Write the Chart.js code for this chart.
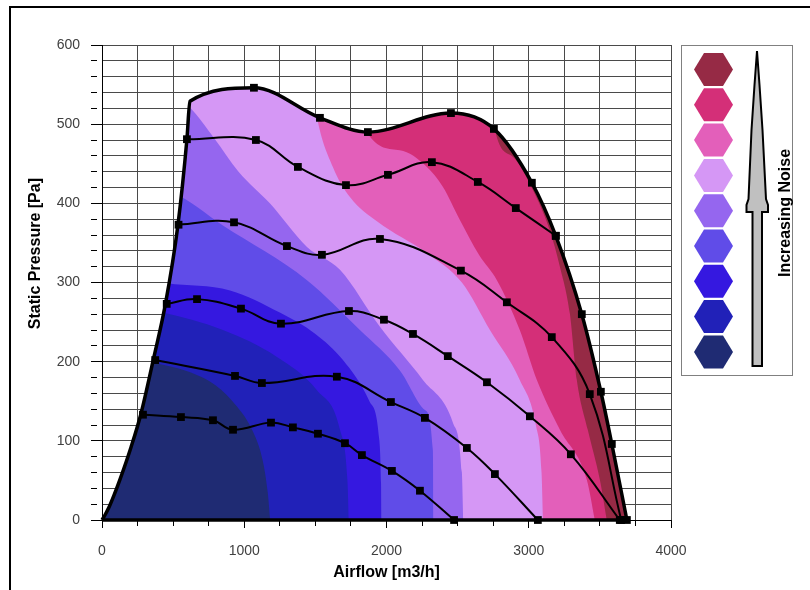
<!DOCTYPE html>
<html>
<head>
<meta charset="utf-8">
<script src="https://cdn.jsdelivr.net/npm/chart.js@4.4.0/dist/chart.umd.min.js"></script>
<style>
  html, body { margin: 0; padding: 0; background: #fff; }
  #wrap { position: relative; width: 810px; height: 590px; overflow: hidden; }
  #frame { position: absolute; left: 9px; top: 6px; width: 900px; height: 700px;
           border-left: 2px solid #000; border-top: 2px solid #000; pointer-events: none; }
  #legend { position: absolute; left: 0; top: 0; pointer-events: none; }
</style>
</head>
<body>
<div id="wrap">
  <canvas id="fan-map" width="810" height="590"></canvas>
  <div id="frame"></div>
  <svg id="legend" width="810" height="590" xmlns="http://www.w3.org/2000/svg"></svg>
</div>
<script>
// axis labels
const flowLabels = [0, 1000, 2000, 3000, 4000];
const pressureLabels = [0, 100, 200, 300, 400, 500, 600];

// legend colours, loudest first
const noiseColors = ['#962a45', '#d42f78', '#e35fba', '#d597f5', '#9566ef',
                     '#604ce8', '#3518e0', '#2121b8', '#1f2b73'];

// left edge of the map (stall line) and the top speed curve
const stallFlow     = [0, 20, 49, 86, 126, 204, 272, 360, 446, 534, 597, 618];
const stallPressure = [0, 6, 16, 32, 51, 92, 133, 202, 273, 373, 481, 529];
const maxFlow     = [1068, 1532, 1869, 2453, 2755, 3022, 3190, 3373, 3507, 3584, 3690];
const maxPressure = [546, 508, 490, 514, 494, 426, 359, 260, 162, 96, 0];
const baseFlow = [0, 3690];
const basePressure = [0, 0];

// lower speed curves
const speed1Flow     = [597, 1082, 1377, 1715, 2010, 2319, 2642, 2909, 3190];
const speed1Pressure = [481, 480, 446, 423, 436, 452, 427, 394, 359];
const speed2Flow     = [538, 928, 1300, 1546, 1954, 2523, 2846, 3162, 3429, 3650];
const speed2Pressure = [373, 376, 346, 335, 355, 315, 275, 231, 159, 0];
const speed3Flow     = [455, 668, 977, 1258, 1736, 1982, 2186, 2431, 2706, 3008, 3296, 3640];
const speed3Pressure = [273, 279, 267, 248, 264, 253, 235, 207, 174, 131, 83, 0];
const speed4Flow     = [374, 935, 1124, 1651, 2031, 2270, 2565, 2762, 3064];
const speed4Pressure = [202, 182, 173, 181, 149, 129, 91, 58, 0];
const speed5Flow     = [288, 555, 780, 921, 1188, 1342, 1518, 1708, 1827, 2038, 2235, 2475];
const speed5Pressure = [133, 130, 126, 114, 123, 117, 109, 97, 82, 62, 37, 0];

// outer edge of each quieter noise zone (zone n uses noiseColors[n])
const zone1Flow     = [0, 2720, 2762, 2888, 3029, 3148, 3219, 3289, 3338, 3415, 3500, 3549];
const zone1Pressure = [600, 600, 493, 459, 417, 366, 320, 261, 177, 114, 51, 0];
const zone2Flow     = [0, 1820, 1862, 2094, 2284, 2396, 2516, 2650, 2776, 2937, 3057, 3219, 3408, 3465];
const zone2Pressure = [600, 600, 490, 467, 446, 421, 379, 335, 303, 240, 177, 114, 51, 0];
const zone3Flow     = [0, 1440, 1511, 1623, 1743, 1935, 2284, 2530, 2727, 2937, 3050, 3090, 3100];
const zone3Pressure = [600, 600, 509, 446, 408, 377, 337, 300, 240, 177, 120, 60, 0];
const zone4Flow     = [0, 618, 790, 960, 1180, 1441, 1673, 1954, 2256, 2467, 2530, 2540];
const zone4Pressure = [600, 521, 482, 440, 400, 345, 316, 244, 177, 123, 60, 0];
const zone5Flow     = [0, 499, 850, 1441, 1813, 2094, 2270, 2326, 2330];
const zone5Pressure = [425, 413, 372, 303, 240, 189, 139, 88, 0];
const zone6Flow     = [0, 457, 900, 1250, 1500, 1694, 1880, 1950, 1962, 1965];
const zone6Pressure = [312, 299, 290, 262, 235, 202, 150, 100, 45, 0];
const zone7Flow     = [0, 425, 850, 1230, 1511, 1673, 1725, 1735];
const zone7Pressure = [275, 262, 240, 206, 164, 114, 51, 0];
const zone8Flow     = [0, 380, 600, 800, 950, 1060, 1130, 1165, 1182];
const zone8Pressure = [215, 198, 188, 170, 143, 112, 75, 35, 0];

function pts(xs, ys) {
  return xs.map((x, i) => ({ x: x, y: ys[i] }));
}

const envelope = pts(stallFlow.concat(maxFlow), stallPressure.concat(maxPressure));

function speedCurve(xs, ys) {
  return {
    data: pts(xs, ys),
    borderColor: '#000',
    borderWidth: 2,
    tension: 0.4,
    pointStyle: 'rect',
    pointRadius: 5.5,
    pointBackgroundColor: '#000',
    pointBorderWidth: 0,
    fill: false,
    clip: false
  };
}

function zone(xs, ys, color) {
  return {
    data: pts(xs, ys),
    backgroundColor: color,
    borderWidth: 0,
    pointRadius: 0,
    cubicInterpolationMode: 'monotone',
    fill: 'origin'
  };
}

const datasets = [
  speedCurve(speed1Flow, speed1Pressure),
  speedCurve(speed2Flow, speed2Pressure),
  speedCurve(speed3Flow, speed3Pressure),
  speedCurve(speed4Flow, speed4Pressure),
  speedCurve(speed5Flow, speed5Pressure),
  {
    // outline of the map
    data: envelope,
    borderColor: '#000',
    borderWidth: 3.5,
    cubicInterpolationMode: 'monotone',
    pointStyle: 'rect',
    pointRadius: ctx => ctx.dataIndex >= stallFlow.length ? 5.5 : 0,
    pointBackgroundColor: '#000',
    pointBorderWidth: 0,
    fill: false,
    clip: false
  },
  {
    data: pts(baseFlow, basePressure),
    borderColor: '#000',
    borderWidth: 3.5,
    pointRadius: 0,
    fill: false,
    clip: false
  }
];

const firstZoneIndex = datasets.length;
datasets.push(zone(zone8Flow, zone8Pressure, noiseColors[8]));
datasets.push(zone(zone7Flow, zone7Pressure, noiseColors[7]));
datasets.push(zone(zone6Flow, zone6Pressure, noiseColors[6]));
datasets.push(zone(zone5Flow, zone5Pressure, noiseColors[5]));
datasets.push(zone(zone4Flow, zone4Pressure, noiseColors[4]));
datasets.push(zone(zone3Flow, zone3Pressure, noiseColors[3]));
datasets.push(zone(zone2Flow, zone2Pressure, noiseColors[2]));
datasets.push(zone(zone1Flow, zone1Pressure, noiseColors[1]));
const envelopeFillIndex = datasets.length;
datasets.push({
  data: envelope,
  backgroundColor: noiseColors[0],
  borderWidth: 0,
  pointRadius: 0,
  cubicInterpolationMode: 'monotone',
  fill: 'origin'
});

// keep the noise zones inside the fan map
const envelopeClip = {
  id: 'envelopeClip',
  beforeDatasetsDraw(chart) {
    const line = chart.getDatasetMeta(envelopeFillIndex).dataset;
    line.updateControlPoints(chart.chartArea, 'x');
    const ctx = chart.ctx;
    ctx.save();
    ctx.beginPath();
    line.path(ctx);
    ctx.closePath();
    ctx.clip();
  },
  afterDatasetDraw(chart, args) {
    if (args.index === firstZoneIndex) chart.ctx.restore();
  }
};

Chart.defaults.font.family = "'Liberation Sans', Arial, sans-serif";

const minorTick = len => ctx => (ctx.tick && ctx.tick.label === '') ? [len, 40] : [];

new Chart(document.getElementById('fan-map').getContext('2d'), {
  type: 'line',
  data: { datasets: datasets },
  options: {
    responsive: false,
    animation: false,
    events: [],
    layout: { padding: { left: 0, right: 139, top: 45, bottom: 0 } },
    plugins: {
      legend: { display: false },
      tooltip: { enabled: false }
    },
    scales: {
      x: {
        type: 'linear',
        min: 0,
        max: 4000,
        afterFit: s => { s.height = 70; },
        ticks: {
          stepSize: 250,
          autoSkip: false,
          maxRotation: 0,
          padding: 15,
          color: '#404040',
          font: { size: 14 },
          callback: v => flowLabels.includes(v) ? String(v) : ''
        },
        grid: {
          color: '#4a4a4a',
          lineWidth: 1,
          tickLength: 8,
          tickColor: '#000',
          tickBorderDash: minorTick(5)
        },
        border: { color: '#000', width: 1 },
        title: {
          display: true,
          text: 'Airflow [m3/h]',
          color: '#000',
          font: { size: 16, weight: 'bold' },
          padding: { top: 0, bottom: 8 }
        }
      },
      y: {
        type: 'linear',
        min: 0,
        max: 600,
        afterFit: s => { s.width = 102; },
        ticks: {
          stepSize: 20,
          autoSkip: false,
          padding: 11,
          color: '#404040',
          font: { size: 14 },
          callback: v => pressureLabels.includes(v) ? String(v) : ''
        },
        grid: {
          color: '#4a4a4a',
          lineWidth: 1,
          tickLength: 11,
          tickColor: '#000',
          tickBorderDash: minorTick(6)
        },
        border: { color: '#000', width: 1 },
        title: {
          display: true,
          text: ' '.repeat(13) + 'Static Pressure [Pa]',
          color: '#000',
          font: { size: 16, weight: 'bold' },
          padding: { top: 26, bottom: 0 }
        }
      }
    }
  },
  plugins: [envelopeClip]
});

// legend box: coloured hexagons, arrow and caption
const svgNS = 'http://www.w3.org/2000/svg';
const legend = document.getElementById('legend');
function svgEl(tag, attrs, text) {
  const el = document.createElementNS(svgNS, tag);
  for (const k in attrs) el.setAttribute(k, attrs[k]);
  if (text) el.textContent = text;
  legend.appendChild(el);
  return el;
}
svgEl('rect', { x: 681.5, y: 45.5, width: 111, height: 330, fill: '#fff', stroke: '#808080', 'stroke-width': 1 });
noiseColors.forEach((color, i) => {
  const cx = 713.5, cy = 69.5 + i * 35.3;
  const hex = [[cx - 19.5, cy], [cx - 9.5, cy - 16.5], [cx + 9.5, cy - 16.5],
               [cx + 19.5, cy], [cx + 9.5, cy + 16.5], [cx - 9.5, cy + 16.5]];
  svgEl('polygon', { points: hex.map(p => p.join(',')).join(' '), fill: color });
});
const arrow = [[757, 51], [759.5, 85], [762.5, 130], [766, 199], [768, 205], [768, 212], [762, 212],
               [762, 366], [752.5, 366], [752.5, 212], [746.5, 212], [746.5, 205], [748.5, 199],
               [751.5, 130], [754.5, 85]];
svgEl('polygon', { points: arrow.map(p => p.join(',')).join(' '), fill: '#c0c0c0', stroke: '#000',
                   'stroke-width': 2, 'stroke-linejoin': 'miter' });
svgEl('text', {
  transform: 'translate(784,213) rotate(-90)',
  'text-anchor': 'middle',
  'dominant-baseline': 'central',
  'font-family': "'Liberation Sans', Arial, sans-serif",
  'font-weight': 'bold',
  'font-size': 16,
  fill: '#000'
}, 'Increasing Noise');
</script>
</body>
</html>
